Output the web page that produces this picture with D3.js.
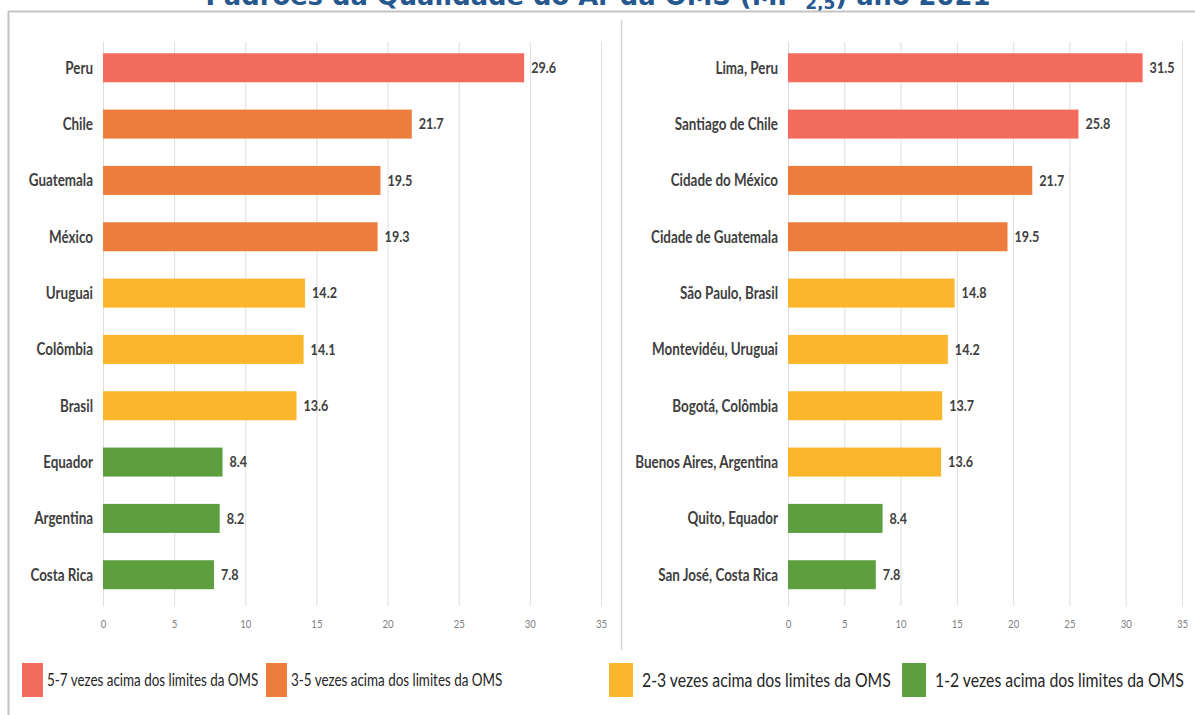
<!DOCTYPE html>
<html>
<head>
<meta charset="utf-8">
<script src="https://cdn.jsdelivr.net/npm/d3@7"></script>
<style>
  body { margin: 0; background: #fff; }
  svg { display: block; }
  .cat { font-family: Lato, 'Open Sans', sans-serif; font-weight: bold; font-size: 17px; fill: #404040; }
  .val { font-family: Lato, 'Open Sans', sans-serif; font-weight: bold; font-size: 15px; fill: #404040; }
  .tick text { font-family: Lato, 'Open Sans', sans-serif; font-size: 12px; fill: #808080; }
  .leg { font-family: Lato, 'Open Sans', sans-serif; fill: #262626; }
</style>
</head>
<body>
<div id="chart"></div>
<script>
// data
var countries = ['Peru', 'Chile', 'Guatemala', 'México', 'Uruguai', 'Colômbia', 'Brasil', 'Equador', 'Argentina', 'Costa Rica'];
var countryValues = [29.6, 21.7, 19.5, 19.3, 14.2, 14.1, 13.6, 8.4, 8.2, 7.8];
var countryLevels = [0, 1, 1, 1, 2, 2, 2, 3, 3, 3];

var cities = ['Lima, Peru', 'Santiago de Chile', 'Cidade do México', 'Cidade de Guatemala', 'São Paulo, Brasil',
  'Montevidéu, Uruguai', 'Bogotá, Colômbia', 'Buenos Aires, Argentina', 'Quito, Equador', 'San José, Costa Rica'];
var cityValues = [31.5, 25.8, 21.7, 19.5, 14.8, 14.2, 13.7, 13.6, 8.4, 7.8];
var cityLevels = [0, 0, 1, 1, 2, 2, 2, 2, 3, 3];

var levelLabels = ['5-7 vezes acima dos limites da OMS', '3-5 vezes acima dos limites da OMS',
  '2-3 vezes acima dos limites da OMS', '1-2 vezes acima dos limites da OMS'];
var levelColors = ['#f36b5c', '#ec7d3d', '#fbb62b', '#5d9e3f'];

var xTicks = [0, 5, 10, 15, 20, 25, 30, 35];

var svgWidth = 1195;
var svgHeight = 715;

var svg = d3.select('#chart')
  .append('svg')
  .attr('width', svgWidth)
  .attr('height', svgHeight);

// title, cut off at the top of the image
var title = svg.append('text')
  .attr('x', 598)
  .attr('y', 5)
  .attr('text-anchor', 'middle')
  .style('font-family', 'DejaVu Sans, sans-serif')
  .style('font-weight', 'bold')
  .style('font-size', '25.8px')
  .style('fill', '#25588f');
title.append('tspan').text('Padrões da Qualidade do Ar da OMS (MP ');
title.append('tspan').attr('dy', 4).style('font-size', '17px').text('2,5');
title.append('tspan').attr('dy', -4).text(') ano 2021');

// frame
svg.append('line').attr('x1', 8).attr('x2', svgWidth).attr('y1', 11.5).attr('y2', 11.5)
  .attr('stroke', '#c4c4c4').attr('stroke-width', 2);
svg.append('line').attr('x1', 8.5).attr('x2', 8.5).attr('y1', 11).attr('y2', svgHeight)
  .attr('stroke', '#c4c4c4').attr('stroke-width', 2);
svg.append('line').attr('x1', 621.5).attr('x2', 621.5).attr('y1', 20).attr('y2', 650)
  .attr('stroke', '#d4d4d4').attr('stroke-width', 1.5);

function drawPanel(names, values, levels, xLeft, xRight) {
  var x = d3.scaleLinear().domain([0, 35]).range([xLeft, xRight]);
  var y = d3.scaleBand().domain(names).range([42, 600.5])
    .paddingInner(0.485).paddingOuter(0.2);

  var g = svg.append('g');

  // gridlines
  g.selectAll('.grid')
    .data(xTicks)
    .enter()
    .append('line')
    .attr('x1', d => x(d) + 0.5)
    .attr('x2', d => x(d) + 0.5)
    .attr('y1', 42)
    .attr('y2', 606)
    .attr('stroke', '#dedede')
    .attr('stroke-width', 1);

  // tick labels
  var bottomAxis = d3.axisBottom(x).tickValues(xTicks).tickSize(0).tickPadding(0);
  var axisG = g.append('g')
    .attr('transform', 'translate(0, 619)')
    .call(bottomAxis);
  axisG.select('.domain').remove();
  axisG.selectAll('.tick text').attr('transform', 'scale(0.8,1)');

  // bars
  g.selectAll('.bar')
    .data(names)
    .enter()
    .append('rect')
    .attr('x', x(0))
    .attr('y', d => y(d))
    .attr('width', (d, i) => x(values[i]) - x(0))
    .attr('height', y.bandwidth())
    .attr('fill', (d, i) => levelColors[levels[i]]);

  // category labels
  g.selectAll('.cat')
    .data(names)
    .enter()
    .append('text')
    .attr('class', 'cat')
    .attr('transform', d => `translate(${x(0) - 10}, ${y(d) + y.bandwidth() / 2}) scale(0.79,1)`)
    .attr('dy', '0.35em')
    .attr('text-anchor', 'end')
    .text(d => d);

  // value labels
  g.selectAll('.val')
    .data(values)
    .enter()
    .append('text')
    .attr('class', 'val')
    .attr('transform', (d, i) => `translate(${x(d) + 7}, ${y(names[i]) + y.bandwidth() / 2}) scale(0.84,1)`)
    .attr('dy', '0.35em')
    .text(d => d.toFixed(1));
}

drawPanel(countries, countryValues, countryLevels, 103, 601);
drawPanel(cities, cityValues, cityLevels, 788, 1182);

// legend (the right half of the original is drawn a bit larger)
var legendX = [22, 266, 609, 902];
var legendSwatchW = [21, 21, 24, 24];
var legendFont = [17, 17, 20, 20];
var legend = svg.append('g');
levelLabels.forEach(function(label, i) {
  legend.append('rect')
    .attr('x', legendX[i])
    .attr('y', 663)
    .attr('width', legendSwatchW[i])
    .attr('height', 34)
    .attr('fill', levelColors[i]);
  legend.append('text')
    .attr('class', 'leg')
    .style('font-size', legendFont[i] + 'px')
    .attr('transform', `translate(${legendX[i] + legendSwatchW[i] + 4 + (i > 1 ? 5 : 0)}, 680) scale(0.79,1)`)
    .attr('dy', '0.35em')
    .text(label);
});
</script>
</body>
</html>
